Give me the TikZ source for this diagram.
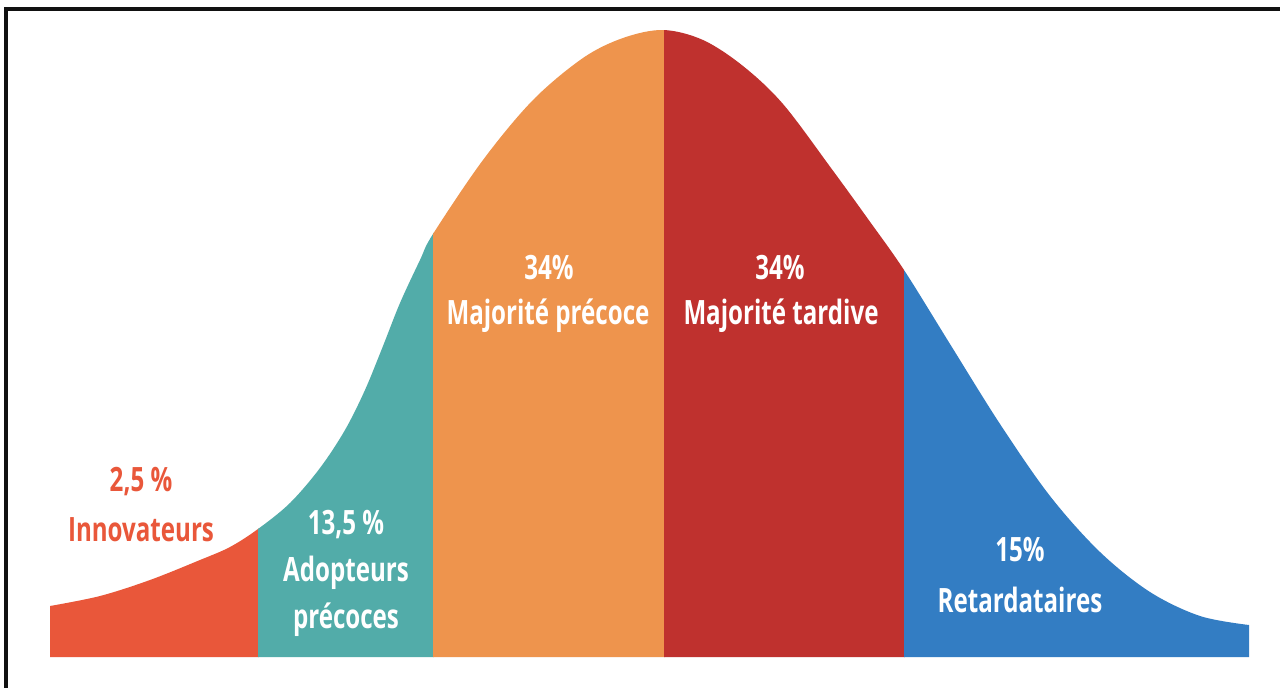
\documentclass[tikz,border=0pt]{standalone}
\usepackage{fontspec}
\newfontfamily\labfont{Open Sans}[FakeStretch=0.72]
\definecolor{cinno}{RGB}{233,87,58}
\definecolor{cadopt}{RGB}{82,172,169}
\definecolor{cearly}{RGB}{238,148,77}
\definecolor{clate}{RGB}{191,49,46}
\definecolor{clag}{RGB}{51,125,195}
\definecolor{cframe}{RGB}{17,17,17}
\tikzset{
  lab/.style={font=\labfont\bfseries\fontsize{33.5}{33.5}\selectfont, inner sep=0pt, anchor=center},
  wlab/.style={lab, text=white},
}
\begin{document}
\begin{tikzpicture}[x=1pt,y=-1pt]
\useasboundingbox (0,0) rectangle (1283,688);
\fill[white] (0,0) rectangle (1283,688);
% frame
\fill[cframe] (4,7) rectangle (1280,11);
\fill[cframe] (4,7) rectangle (7.5,688);
% bell curve
\begin{scope}
\clip (50,657) -- plot[smooth, tension=0.55] coordinates {
  (50,606) (100,596) (150,580) (200,560) (230,547) (258,529) (290,503) (320,468)
  (345,430) (365,390) (383,346) (400,303) (420,260) (433,234) (483,160) (533,100)
  (583,58) (623,38) (663,30) (703,40) (743,66) (783,104) (831,168) (868,219)
  (904,270) (950,344) (1000,424) (1050,496) (1100,552) (1150,592) (1200,616)
  (1249,625)}
  -- (1249,657) -- cycle;
\fill[cinno]  (40,0) rectangle (258.5,660);
\fill[cadopt] (258,0) rectangle (433.5,660);
\fill[cearly] (433,0) rectangle (664.5,660);
\fill[clate]  (664,0) rectangle (904.5,660);
\fill[clag]   (904,0) rectangle (1260,660);
\end{scope}
% labels
\node[lab, text=cinno] (innoP) at (141,482) {2,5 \%};
\node[lab, text=cinno] (innoT) at (141,530) {Innovateurs};
\node[wlab] (adoptP) at (346,525) {13,5 \%};
\node[wlab] (adoptT1) at (346,573) {Adopteurs};
\node[wlab] (adoptT2) at (346,620) {précoces};
\node[wlab] (earlyP) at (549,268) {34\%};
\node[wlab] (earlyT) at (548,316) {Majorité précoce};
\node[wlab] (lateP) at (780,268) {34\%};
\node[wlab] (lateT) at (781,316) {Majorité tardive};
\node[wlab] (lagP) at (1020,550) {15\%};
\node[wlab] (lagT) at (1020,600) {Retardataires};
\end{tikzpicture}
\end{document}
